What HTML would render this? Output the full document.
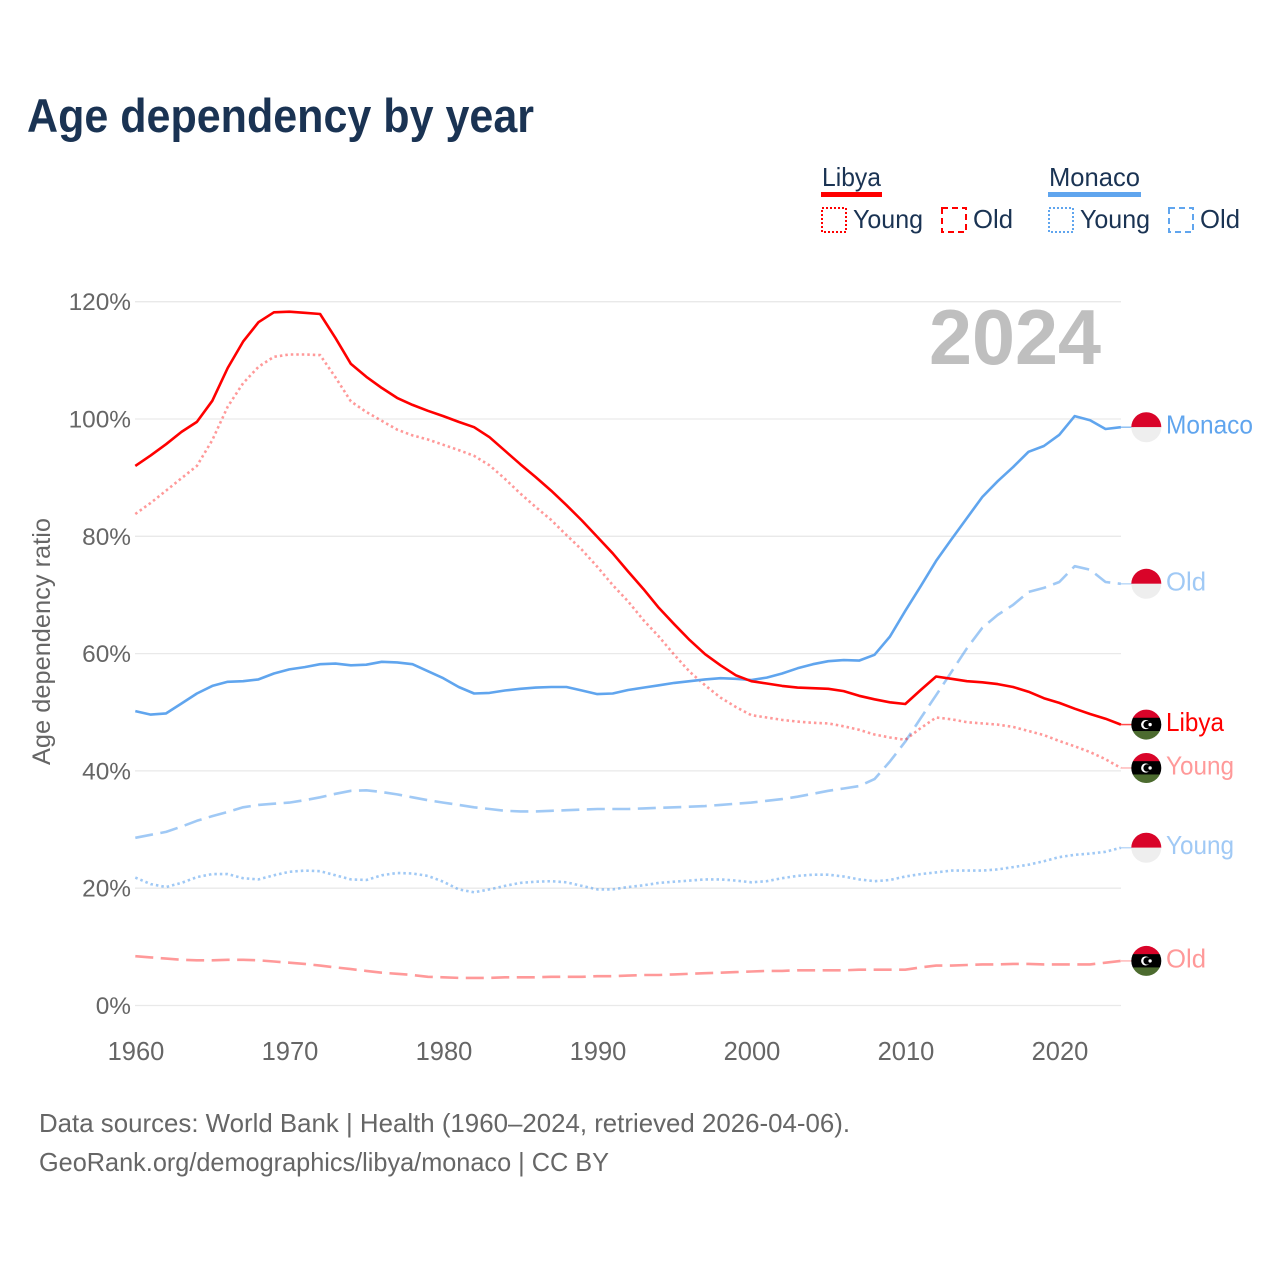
<!DOCTYPE html>
<html lang="en">
<head>
<meta charset="utf-8">
<title>Age dependency by year</title>
<style>
html,body{margin:0;padding:0;background:#fff;}
svg{display:block;}
text{font-family:"Liberation Sans",sans-serif;}
</style>
</head>
<body>
<svg id="chart" xmlns="http://www.w3.org/2000/svg" width="1280" height="1280" viewBox="0 0 1280 1280">
  <defs>
    <clipPath id="flag-clip"><circle cx="0" cy="0" r="15"/></clipPath>
  </defs>
  <rect x="0" y="0" width="1280" height="1280" fill="#fff"/>
  <text x="27" y="132" font-size="47" font-weight="700" fill="#1a3353" textLength="507" lengthAdjust="spacingAndGlyphs">Age dependency by year</text>

  <g font-size="26" fill="#1a3353">
    <text x="822" y="186" textLength="59" lengthAdjust="spacingAndGlyphs">Libya</text>
    <rect x="821" y="192" width="61" height="5" fill="#ff0000"/>
    <rect x="822" y="208" width="24" height="24" fill="none" stroke="#ff0000" stroke-width="2" stroke-dasharray="2 2"/>
    <text x="853" y="228" textLength="70" lengthAdjust="spacingAndGlyphs">Young</text>
    <rect x="942" y="208" width="24" height="24" fill="none" stroke="#ff0000" stroke-width="2" stroke-dasharray="6 4"/>
    <text x="973" y="228" textLength="40" lengthAdjust="spacingAndGlyphs">Old</text>
    <text x="1049" y="186" textLength="91" lengthAdjust="spacingAndGlyphs">Monaco</text>
    <rect x="1048" y="192" width="93" height="5" fill="#60a5ee"/>
    <rect x="1049" y="208" width="24" height="24" fill="none" stroke="#60a5ee" stroke-width="2" stroke-dasharray="2 2"/>
    <text x="1080" y="228" textLength="70" lengthAdjust="spacingAndGlyphs">Young</text>
    <rect x="1169" y="208" width="24" height="24" fill="none" stroke="#60a5ee" stroke-width="2" stroke-dasharray="6 4"/>
    <text x="1200" y="228" textLength="40" lengthAdjust="spacingAndGlyphs">Old</text>
  </g>

  <g id="grid"></g>
  <g id="yticks"></g>
  <g id="xticks"></g>
  <text x="929" y="364" font-size="78" font-weight="700" fill="#bfbfbf" textLength="172" lengthAdjust="spacingAndGlyphs">2024</text>
  <text transform="translate(50 641.5) rotate(-90)" text-anchor="middle" font-size="25" fill="#666" textLength="247" lengthAdjust="spacingAndGlyphs">Age dependency ratio</text>
  <g id="series"></g>
  <g id="ends"></g>

  <text x="39" y="1132" font-size="26" fill="#666" textLength="811" lengthAdjust="spacingAndGlyphs">Data sources: World Bank | Health (1960–2024, retrieved 2026-04-06).</text>
  <text x="39" y="1171" font-size="26" fill="#666" textLength="570" lengthAdjust="spacingAndGlyphs">GeoRank.org/demographics/libya/monaco | CC BY</text>
</svg>
<script>
const years = [1960,1961,1962,1963,1964,1965,1966,1967,1968,1969,1970,1971,1972,1973,1974,1975,1976,1977,1978,1979,1980,1981,1982,1983,1984,1985,1986,1987,1988,1989,1990,1991,1992,1993,1994,1995,1996,1997,1998,1999,2000,2001,2002,2003,2004,2005,2006,2007,2008,2009,2010,2011,2012,2013,2014,2015,2016,2017,2018,2019,2020,2021,2022,2023,2024];
const yTickValues = [0,20,40,60,80,100,120];
const xTickValues = [1960,1970,1980,1990,2000,2010,2020];
const libyaTotal = [92.0,93.8,95.7,97.8,99.5,103.1,108.7,113.2,116.5,118.2,118.3,118.1,117.9,113.8,109.4,107.2,105.3,103.6,102.4,101.4,100.5,99.5,98.6,96.9,94.6,92.3,90.1,87.8,85.3,82.7,79.9,77.1,74.0,71.0,67.8,65.0,62.3,59.9,58.0,56.3,55.3,54.9,54.5,54.2,54.1,54.0,53.6,52.8,52.2,51.7,51.4,53.8,56.1,55.7,55.3,55.1,54.8,54.3,53.5,52.4,51.6,50.6,49.7,48.9,47.9];
const libyaYoung = [83.8,85.7,87.8,89.9,92.0,96.4,102.1,106.1,108.9,110.6,111.0,111.0,110.9,107.1,103.0,101.2,99.7,98.2,97.2,96.5,95.6,94.7,93.7,92.1,89.8,87.3,85.0,82.8,80.2,77.7,74.8,71.7,68.9,65.7,62.9,59.8,56.9,54.6,52.5,50.9,49.5,49.1,48.7,48.4,48.2,48.1,47.6,47.0,46.2,45.7,45.3,47.3,49.1,48.8,48.3,48.1,47.9,47.5,46.8,46.1,45.1,44.2,43.2,42.0,40.5];
const libyaOld = [8.4,8.2,8.0,7.8,7.7,7.7,7.8,7.8,7.7,7.5,7.3,7.1,6.8,6.5,6.2,5.9,5.6,5.4,5.2,4.9,4.8,4.7,4.7,4.7,4.8,4.8,4.8,4.9,4.9,4.9,5.0,5.0,5.1,5.2,5.2,5.3,5.4,5.5,5.6,5.7,5.8,5.9,5.9,6.0,6.0,6.0,6.0,6.1,6.1,6.1,6.1,6.5,6.8,6.8,6.9,7.0,7.0,7.1,7.1,7.0,7.0,7.0,7.0,7.3,7.6];
const monacoTotal = [50.2,49.6,49.8,51.5,53.2,54.5,55.2,55.3,55.6,56.6,57.3,57.7,58.2,58.3,58.0,58.1,58.6,58.5,58.2,57.0,55.8,54.3,53.2,53.3,53.7,54.0,54.2,54.3,54.3,53.7,53.1,53.2,53.8,54.2,54.6,55.0,55.3,55.6,55.8,55.7,55.5,55.9,56.6,57.5,58.2,58.7,58.9,58.8,59.8,62.9,67.3,71.5,75.8,79.5,83.1,86.7,89.4,91.8,94.4,95.4,97.3,100.5,99.8,98.3,98.6];
const monacoYoung = [21.8,20.7,20.2,20.9,21.9,22.4,22.4,21.7,21.5,22.2,22.8,23.0,22.9,22.2,21.5,21.4,22.2,22.6,22.5,22.1,21.1,19.8,19.3,19.8,20.4,20.9,21.1,21.2,21.0,20.4,19.8,19.8,20.2,20.5,20.9,21.1,21.3,21.5,21.5,21.3,21.0,21.2,21.7,22.1,22.3,22.3,22.0,21.5,21.2,21.4,22.0,22.4,22.7,23.0,23.0,23.0,23.2,23.6,24.0,24.6,25.3,25.7,25.9,26.2,26.9];
const monacoOld = [28.6,29.1,29.6,30.5,31.5,32.3,33.0,33.8,34.2,34.4,34.6,35.0,35.5,36.1,36.6,36.7,36.4,36.0,35.5,35.0,34.6,34.2,33.8,33.5,33.2,33.1,33.1,33.2,33.3,33.4,33.5,33.5,33.5,33.6,33.7,33.8,33.9,34.0,34.2,34.4,34.6,34.9,35.2,35.6,36.1,36.6,37.0,37.4,38.6,41.6,45.0,49.0,52.9,56.9,60.9,64.4,66.6,68.3,70.5,71.2,72.2,74.9,74.3,72.2,71.9];

const NS = 'http://www.w3.org/2000/svg';
const xScale = function (year) { return 135.3 + (year - 1960) * 15.4; };
const yScale = function (value) { return 1005.5 - value * 5.865; };

function make(tag, parent, attrs) {
  const el = document.createElementNS(NS, tag);
  for (const k in attrs) el.setAttribute(k, attrs[k]);
  parent.appendChild(el);
  return el;
}

const gridGroup = document.getElementById('grid');
const yTickGroup = document.getElementById('yticks');
yTickValues.forEach(function (v) {
  const line = make('line', gridGroup, {x1: 135, x2: 1121, y1: yScale(v), y2: yScale(v), stroke: '#e9e9e9', 'stroke-width': 1.3});
  
  
  const label = make('text', yTickGroup, {x: 131, y: yScale(v) + 8.5, 'text-anchor': 'end', 'font-size': 24.4, fill: '#666'});
  
  
  label.textContent = v + '%';
});

const xTickGroup = document.getElementById('xticks');
xTickValues.forEach(function (yr) {
  const label = make('text', xTickGroup, {x: xScale(yr) + 0.7, y: 1060, 'text-anchor': 'middle', 'font-size': 25.5, fill: '#666'});
  
  
  label.textContent = String(yr);
});

const RED = '#ff0000';
const BLUE = '#60a5ee';
const DOT = '2.5 3';
const DASH = '18 7.5';

const seriesList = [
  {id: 'monaco-old', values: monacoOld, color: BLUE, opacity: 0.6, dash: DASH, label: 'Old', labelWidth: 40, flag: 'monaco'},
  {id: 'monaco-young', values: monacoYoung, color: BLUE, opacity: 0.6, dash: DOT, label: 'Young', labelWidth: 68, flag: 'monaco'},
  {id: 'libya-old', values: libyaOld, color: RED, opacity: 0.4, dash: DASH, label: 'Old', labelWidth: 40, flag: 'libya'},
  {id: 'libya-young', values: libyaYoung, color: RED, opacity: 0.4, dash: DOT, label: 'Young', labelWidth: 68, flag: 'libya'},
  {id: 'monaco-total', values: monacoTotal, color: BLUE, opacity: 1, dash: null, label: 'Monaco', labelWidth: 87, flag: 'monaco'},
  {id: 'libya-total', values: libyaTotal, color: RED, opacity: 1, dash: null, label: 'Libya', labelWidth: 58, flag: 'libya'}
];

const seriesGroup = document.getElementById('series');
const endGroup = document.getElementById('ends');

function drawFlag(parent, kind, cy, name) {
  const g = make('g', parent, {transform: 'translate(1146.3 ' + cy + ')', 'clip-path': 'url(#flag-clip)'});
  
  
  if (kind === 'monaco') {
    make('rect', g, {x: -16, y: -16, width: 32, height: 16, fill: '#d90429'});
    make('rect', g, {x: -16, y: 0, width: 32, height: 16, fill: '#eeeeee'});
  } else {
    make('rect', g, {x: -16, y: -16, width: 32, height: 9.5, fill: '#d90429'});
    make('rect', g, {x: -16, y: -6.8, width: 32, height: 13.6, fill: '#000000'});
    make('rect', g, {x: -16, y: 6.5, width: 32, height: 9.5, fill: '#4c6b2f'});
    make('circle', g, {cx: -0.6, cy: 0, r: 4.6, fill: '#ffffff'});
    make('circle', g, {cx: 0.8, cy: 0, r: 3.7, fill: '#000000'});
    make('circle', g, {cx: 3.8, cy: 0, r: 1.7, fill: '#ffffff'});
  }
}

seriesList.forEach(function (s) {
  const pts = s.values.map(function (v, i) { return xScale(years[i]).toFixed(1) + ',' + yScale(v).toFixed(1); }).join(' ');
  const attrs = {points: pts, fill: 'none', stroke: s.color, 'stroke-width': 2.6, 'stroke-opacity': s.opacity, 'stroke-linejoin': 'round'};
  if (s.dash) attrs['stroke-dasharray'] = s.dash;
  const line = make('polyline', seriesGroup, attrs);
  
  

  const lastValue = s.values[s.values.length - 1];
  const lastYear = years[years.length - 1];
  const cy = yScale(lastValue);
  const connector = make('line', endGroup, {x1: xScale(lastYear), x2: 1134, y1: cy, y2: cy, stroke: s.color, 'stroke-width': 1.5, 'stroke-opacity': s.opacity * 0.7});
  
  
  drawFlag(endGroup, s.flag, cy, 'flag-' + s.id);
  const label = make('text', endGroup, {x: 1166, y: cy + 6.5, 'font-size': 26, fill: s.color, 'fill-opacity': s.opacity, textLength: s.labelWidth, lengthAdjust: 'spacingAndGlyphs'});
  
  
  label.textContent = s.label;
});
</script>
</body>
</html>
